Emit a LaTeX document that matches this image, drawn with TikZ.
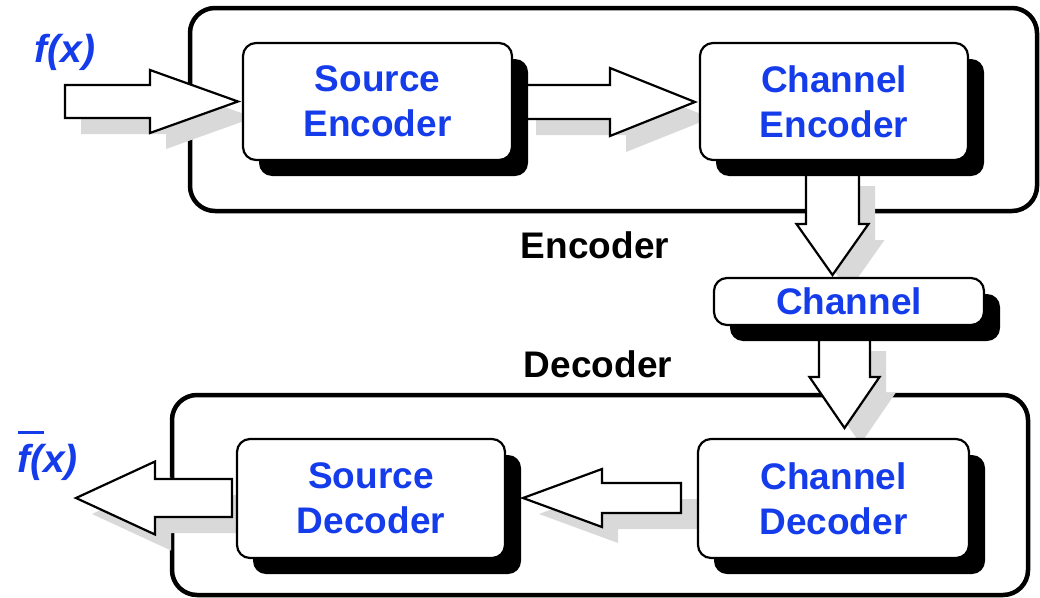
\documentclass[tikz,border=0pt]{standalone}
\usepackage{fontspec}
\setmainfont{Liberation Sans}
\usetikzlibrary{shadows}
\definecolor{txtblue}{RGB}{20,60,235}
\definecolor{shgray}{RGB}{217,217,217}
% horizontal block arrow: {xtail}{xtip}{xheadbase}{ycenter}{shafthalf}{headhalf}
\newcommand{\harr}[6]{%
  \path[bshadow,shift={(16,16)}] (#1,#4-#5) -- (#3,#4-#5) -- (#3,#4-#6) -- (#2,#4) -- (#3,#4+#6) -- (#3,#4+#5) -- (#1,#4+#5) -- cycle;
  \path[barrow] (#1,#4-#5) -- (#3,#4-#5) -- (#3,#4-#6) -- (#2,#4) -- (#3,#4+#6) -- (#3,#4+#5) -- (#1,#4+#5) -- cycle;}
% vertical block arrow: {ytail}{ytip}{yheadbase}{xcenter}{shafthalf}{headhalf}
\newcommand{\varr}[6]{%
  \path[bshadow,shift={(16,16)}] (#4-#5,#1) -- (#4-#5,#3) -- (#4-#6,#3) -- (#4,#2) -- (#4+#6,#3) -- (#4+#5,#3) -- (#4+#5,#1) -- cycle;
  \path[barrow] (#4-#5,#1) -- (#4-#5,#3) -- (#4-#6,#3) -- (#4,#2) -- (#4+#6,#3) -- (#4+#5,#3) -- (#4+#5,#1) -- cycle;}
\begin{document}
\begin{tikzpicture}[x=1pt,y=-1pt,
  frame/.style={draw, line width=4.5pt, rounded corners=25pt, inner sep=0pt},
  blk/.style={draw, line width=2.2pt, rounded corners=13pt, fill=white,
    font=\fontsize{37}{45}\selectfont\bfseries, text=txtblue, align=center, inner sep=0pt,
    drop shadow={shadow xshift=16pt, shadow yshift=-16pt, fill=black, opacity=1}},
  lbl/.style={font=\fontsize{37}{44}\selectfont\bfseries, inner sep=0pt},
  fx/.style={font=\fontsize{39}{44}\selectfont\bfseries\itshape, text=txtblue, inner sep=0pt},
  barrow/.style={draw, line width=2.2pt, fill=white, line join=miter},
  bshadow/.style={fill=shgray}]
\useasboundingbox (0,0) rectangle (1040,597);
% frames
\node[frame, minimum width=847pt, minimum height=203pt] (encframe) at (613.5,109.5) {};
\node[frame, minimum width=856pt, minimum height=200pt] (decframe) at (600,495) {};
% block arrows
\harr{65}{238}{150}{101.5}{16.5}{31.5}
\harr{520}{695}{610}{102}{17}{34}
\varr{170}{275}{224}{832.5}{26.5}{36}
\varr{335}{428}{377}{844.5}{25.5}{35}
\harr{681}{523}{602}{498}{15}{29}
\harr{232}{76}{155}{498}{19}{36.5}
% boxes
\node[blk, minimum width=269pt, minimum height=117pt] (senc) at (377.5,101.5) {Source\\Encoder};
\node[blk, minimum width=268pt, minimum height=117pt] (cenc) at (834,101.5) {Channel\\Encoder};
\node[blk, minimum width=270pt, minimum height=47pt] (chan) at (849,301.5) {Channel};
\node[blk, minimum width=271pt, minimum height=119pt] (cdec) at (833.5,498.5) {Channel\\Decoder};
\node[blk, minimum width=268pt, minimum height=119pt] (sdec) at (371,498.5) {Source\\Decoder};
% labels
\node[lbl] (enclbl) at (595,245) {Encoder};
\node[lbl] (declbl) at (598,364) {Decoder};
\node[fx] (fin) at (65,52) {f(x)};
\node[fx, anchor=base west] (fout) at (17,472) {\rlap{\hspace{1pt}\rule[38.5pt]{26pt}{2.5pt}}f(x)};
\end{tikzpicture}
\end{document}
